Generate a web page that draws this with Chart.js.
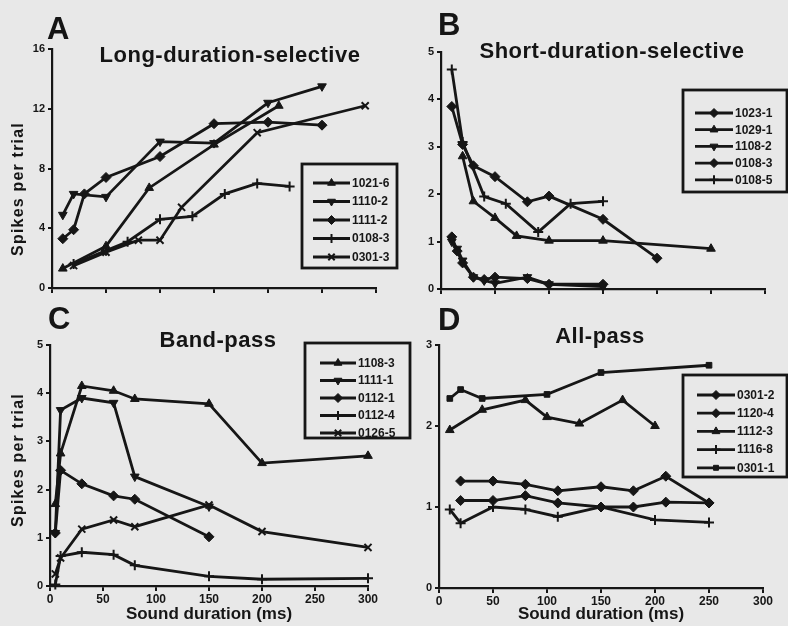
<!DOCTYPE html>
<html>
<head>
<meta charset="utf-8">
<script src="https://cdn.jsdelivr.net/npm/chart.js@4.4.1/dist/chart.umd.min.js"></script>
<style>
  html, body { margin: 0; padding: 0; background: #e8e8e8; }
  #page { position: relative; width: 788px; height: 626px; overflow: hidden; background: #e8e8e8;
          font-family: 'Liberation Sans', Arial, sans-serif; color: #151515; }
  canvas { position: absolute; }
  .letter { position: absolute; font-size: 31px; line-height: 30px; font-weight: bold; }
  .title { position: absolute; font-size: 22px; line-height: 22px; font-weight: bold; letter-spacing: 0.5px;
           white-space: nowrap; transform: translateX(-50%); }
  .ytitle { position: absolute; font-size: 16px; font-weight: bold; letter-spacing: 1.2px; white-space: nowrap;
            transform: translate(-50%, -50%) rotate(-90deg); }
</style>
</head>
<body>
<div id="page">
  <canvas id="chartA" width="400" height="310" style="left:0;top:0"></canvas>
  <canvas id="chartB" width="388" height="310" style="left:400px;top:0"></canvas>
  <canvas id="chartC" width="420" height="326" style="left:0;top:300px"></canvas>
  <canvas id="chartD" width="388" height="326" style="left:400px;top:300px"></canvas>

  <div class="letter" style="left:47px;top:14px">A</div>
  <div class="letter" style="left:438px;top:10px">B</div>
  <div class="letter" style="left:48px;top:304px">C</div>
  <div class="letter" style="left:438px;top:305px">D</div>

  <div class="title" style="left:230px;top:44px">Long-duration-selective</div>
  <div class="title" style="left:612px;top:40px">Short-duration-selective</div>
  <div class="title" style="left:218px;top:329px">Band-pass</div>
  <div class="title" style="left:600px;top:325px">All-pass</div>

  <div class="ytitle" style="left:18px;top:189px">Spikes per trial</div>
  <div class="ytitle" style="left:18px;top:460px">Spikes per trial</div>
</div>

<script>
// ---- data (duration in ms, spikes per trial) ----

// A: Long-duration-selective
const aNames = ['1021-6', '1110-2', '1111-2', '0108-3', '0301-3'];
const aDur1021_6 = [10, 50, 90, 150, 210];
const aSpk1021_6 = [1.3, 2.8, 6.7, 9.6, 12.2];
const aDur1110_2 = [10, 20, 50, 100, 150, 200, 250];
const aSpk1110_2 = [4.9, 6.3, 6.1, 9.8, 9.7, 12.4, 13.5];
const aDur1111_2 = [10, 20, 30, 50, 100, 150, 200, 250];
const aSpk1111_2 = [3.3, 3.9, 6.3, 7.4, 8.8, 11.0, 11.1, 10.9];
const aDur0108_3 = [20, 50, 70, 100, 130, 160, 190, 220];
const aSpk0108_3 = [1.6, 2.5, 3.1, 4.6, 4.8, 6.3, 7.0, 6.8];
const aDur0301_3 = [20, 50, 80, 100, 120, 190, 290];
const aSpk0301_3 = [1.5, 2.4, 3.2, 3.2, 5.4, 10.4, 12.2];

// B: Short-duration-selective
const bNames = ['1023-1', '1029-1', '1108-2', '0108-3', '0108-5'];
const bDur1023_1 = [10, 15, 20, 30, 40, 50, 80, 100, 150];
const bSpk1023_1 = [1.1, 0.8, 0.55, 0.25, 0.2, 0.25, 0.22, 0.1, 0.1];
const bDur1029_1 = [20, 30, 50, 70, 100, 150, 250];
const bSpk1029_1 = [2.8, 1.85, 1.5, 1.12, 1.02, 1.02, 0.85];
const bDur1108_2 = [10, 15, 20, 30, 40, 50, 80, 100, 150];
const bSpk1108_2 = [1.0, 0.85, 0.6, 0.25, 0.18, 0.12, 0.25, 0.1, 0.05];
const bDur0108_3 = [10, 20, 30, 50, 80, 100, 150, 200];
const bSpk0108_3 = [3.85, 3.05, 2.6, 2.37, 1.84, 1.96, 1.47, 0.65];
const bDur0108_5 = [10, 20, 40, 60, 90, 120, 150];
const bSpk0108_5 = [4.63, 3.1, 1.95, 1.8, 1.2, 1.8, 1.85];

// C: Band-pass
const cNames = ['1108-3', '1111-1', '0112-1', '0112-4', '0126-5'];
const cDur1108_3 = [5, 10, 30, 60, 80, 150, 200, 300];
const cSpk1108_3 = [1.7, 2.75, 4.15, 4.05, 3.88, 3.78, 2.55, 2.7];
const cDur1111_1 = [5, 10, 30, 60, 80, 150];
const cSpk1111_1 = [1.1, 3.65, 3.9, 3.8, 2.27, 1.65];
const cDur0112_1 = [5, 10, 30, 60, 80, 150];
const cSpk0112_1 = [1.1, 2.4, 2.12, 1.87, 1.8, 1.02];
const cDur0112_4 = [5, 10, 30, 60, 80, 150, 200, 300];
const cSpk0112_4 = [0.03, 0.62, 0.7, 0.65, 0.43, 0.2, 0.14, 0.16];
const cDur0126_5 = [5, 10, 30, 60, 80, 150, 200, 300];
const cSpk0126_5 = [0.25, 0.58, 1.18, 1.37, 1.23, 1.68, 1.13, 0.8];

// D: All-pass
const dNames = ['0301-2', '1120-4', '1112-3', '1116-8', '0301-1'];
const dDur0301_2 = [20, 50, 80, 110, 150, 180, 210, 250];
const dSpk0301_2 = [1.32, 1.32, 1.28, 1.2, 1.25, 1.2, 1.38, 1.05];
const dDur1120_4 = [20, 50, 80, 110, 150, 180, 210, 250];
const dSpk1120_4 = [1.08, 1.08, 1.14, 1.05, 1.0, 1.0, 1.06, 1.05];
const dDur1112_3 = [10, 40, 80, 100, 130, 170, 200];
const dSpk1112_3 = [1.95, 2.2, 2.32, 2.11, 2.03, 2.32, 2.0];
const dDur1116_8 = [10, 20, 50, 80, 110, 150, 200, 250];
const dSpk1116_8 = [0.97, 0.8, 1.0, 0.97, 0.88, 1.0, 0.84, 0.81];
const dDur0301_1 = [10, 20, 40, 100, 150, 250];
const dSpk0301_1 = [2.34, 2.45, 2.34, 2.39, 2.66, 2.75];

const durTicks = [0, 50, 100, 150, 200, 250, 300];

// ---- drawing ----
const INK = '#161616';
const BG = '#e8e8e8';
Chart.defaults.font.family = "'Liberation Sans', Arial, sans-serif";
Chart.defaults.color = INK;

function pts(xs, ys) {
    return xs.map((x, i) => ({ x: x, y: ys[i] }));
}

function series(label, xs, ys, style, rotation) {
    const thin = (style === 'cross' || style === 'crossRot');
    return {
        label: label,
        data: pts(xs, ys),
        borderColor: INK,
        borderWidth: 2.8,
        tension: 0,
        pointStyle: style,
        pointRotation: rotation || 0,
        pointRadius: thin ? 5 : (style === 'rect' ? 4 : 5),
        pointBackgroundColor: INK,
        pointBorderColor: INK,
        pointBorderWidth: thin ? 2 : 1,
        clip: false
    };
}

// legend box drawn inside the panel, like the original figure
const boxLegend = {
    id: 'boxLegend',
    afterDraw(chart, args, o) {
        if (!o || !o.w) return;
        const ctx = chart.ctx;
        ctx.save();
        ctx.fillStyle = BG;
        ctx.fillRect(o.x, o.y, o.w, o.h);
        ctx.strokeStyle = INK;
        ctx.lineWidth = 2.8;
        ctx.strokeRect(o.x, o.y, o.w, o.h);
        ctx.font = 'bold 12px "Liberation Sans", Arial, sans-serif';
        ctx.textBaseline = 'middle';
        chart.data.datasets.forEach((ds, i) => {
            const y = o.rowY + i * o.rowGap;
            ctx.strokeStyle = INK;
            ctx.lineWidth = 2.8;
            ctx.beginPath();
            ctx.moveTo(o.x0, y);
            ctx.lineTo(o.x1, y);
            ctx.stroke();
            ctx.fillStyle = INK;
            ctx.lineWidth = ds.pointBorderWidth;
            if (Chart.helpers && Chart.helpers.drawPoint) {
                Chart.helpers.drawPoint(ctx, {
                    pointStyle: ds.pointStyle,
                    rotation: ds.pointRotation,
                    radius: ds.pointRadius - 0.5,
                    borderWidth: ds.pointBorderWidth
                }, (o.x0 + o.x1) / 2, y);
            }
            ctx.fillStyle = INK;
            ctx.fillText(ds.label, o.tx, y + 0.5);
        });
        ctx.restore();
    }
};

function makeChart(id, datasets, opt) {
    return new Chart(document.getElementById(id), {
        type: 'line',
        data: { datasets: datasets },
        plugins: [boxLegend],
        options: {
            responsive: false,
            animation: false,
            events: [],
            layout: { padding: { left: 0, top: opt.top, right: opt.right, bottom: 0 } },
            plugins: {
                legend: { display: false },
                tooltip: { enabled: false },
                boxLegend: opt.legend
            },
            scales: {
                x: {
                    type: 'linear',
                    min: 0,
                    max: 300,
                    afterBuildTicks: s => { s.ticks = durTicks.map(v => ({ value: v })); },
                    afterFit: s => { s.height = opt.xh; },
                    grid: { drawOnChartArea: false, drawTicks: true, tickLength: 5, color: INK, lineWidth: 2 },
                    border: { display: true, color: INK, width: 2.2 },
                    ticks: {
                        padding: 1,
                        font: { size: 12, weight: 'bold' },
                        callback: v => opt.xLabels ? String(v) : ''
                    },
                    title: {
                        display: !!opt.xLabels,
                        text: 'Sound duration (ms)',
                        font: { size: 17, weight: 'bold' },
                        padding: { top: 0, bottom: 1 }
                    }
                },
                y: {
                    min: 0,
                    max: opt.ymax,
                    afterFit: s => { s.width = opt.yw; },
                    grid: { drawOnChartArea: false, drawTicks: true, tickLength: 4, color: INK, lineWidth: 2 },
                    border: { display: true, color: INK, width: 2.2 },
                    ticks: { stepSize: opt.ystep, padding: 3, font: { size: 11, weight: 'bold' } }
                }
            }
        }
    });
}

makeChart('chartA', [
    series(aNames[0], aDur1021_6, aSpk1021_6, 'triangle'),
    series(aNames[1], aDur1110_2, aSpk1110_2, 'triangle', 180),
    series(aNames[2], aDur1111_2, aSpk1111_2, 'rectRot'),
    series(aNames[3], aDur0108_3, aSpk0108_3, 'cross'),
    series(aNames[4], aDur0301_3, aSpk0301_3, 'crossRot')
], { top: 49, right: 24, yw: 52, xh: 22, ymax: 16, ystep: 4, xLabels: false,
     legend: { x: 302, y: 164, w: 95, h: 104, rowY: 183, rowGap: 18.5, x0: 313, x1: 350, tx: 352 } });

makeChart('chartB', [
    series(bNames[0], bDur1023_1, bSpk1023_1, 'rectRot'),
    series(bNames[1], bDur1029_1, bSpk1029_1, 'triangle'),
    series(bNames[2], bDur1108_2, bSpk1108_2, 'triangle', 180),
    series(bNames[3], bDur0108_3, bSpk0108_3, 'rectRot'),
    series(bNames[4], bDur0108_5, bSpk0108_5, 'cross')
], { top: 52, right: 23, yw: 41, xh: 21, ymax: 5, ystep: 1, xLabels: false,
     legend: { x: 283, y: 90, w: 104, h: 102, rowY: 113, rowGap: 16.7, x0: 295, x1: 333, tx: 335 } });

makeChart('chartC', [
    series(cNames[0], cDur1108_3, cSpk1108_3, 'triangle'),
    series(cNames[1], cDur1111_1, cSpk1111_1, 'triangle', 180),
    series(cNames[2], cDur0112_1, cSpk0112_1, 'rectRot'),
    series(cNames[3], cDur0112_4, cSpk0112_4, 'cross'),
    series(cNames[4], cDur0126_5, cSpk0126_5, 'crossRot')
], { top: 45, right: 52, yw: 50, xh: 40, ymax: 5, ystep: 1, xLabels: true,
     legend: { x: 305, y: 43, w: 105, h: 95, rowY: 63, rowGap: 17.5, x0: 320, x1: 356, tx: 358 } });

makeChart('chartD', [
    series(dNames[0], dDur0301_2, dSpk0301_2, 'rectRot'),
    series(dNames[1], dDur1120_4, dSpk1120_4, 'rectRot'),
    series(dNames[2], dDur1112_3, dSpk1112_3, 'triangle'),
    series(dNames[3], dDur1116_8, dSpk1116_8, 'cross'),
    series(dNames[4], dDur0301_1, dSpk0301_1, 'rect')
], { top: 45, right: 25, yw: 39, xh: 38, ymax: 3, ystep: 1, xLabels: true,
     legend: { x: 283, y: 75, w: 104, h: 102, rowY: 95, rowGap: 18.2, x0: 297, x1: 335, tx: 337 } });
</script>
</body>
</html>
